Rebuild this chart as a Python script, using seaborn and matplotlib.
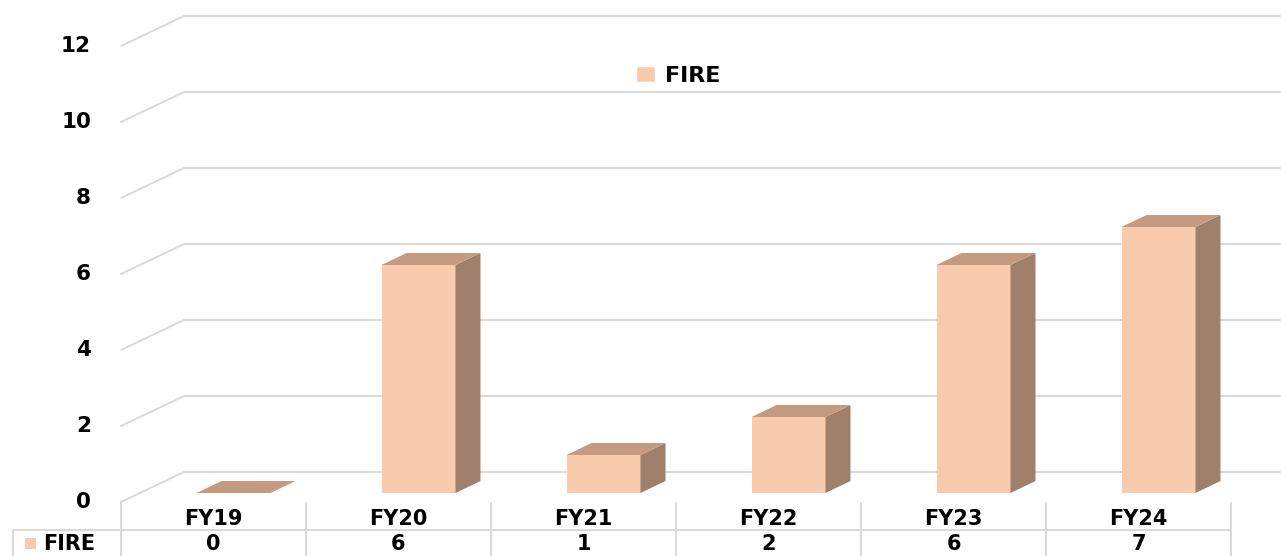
import matplotlib
matplotlib.use("Agg")
import matplotlib.pyplot as plt
import matplotlib.transforms as mtransforms
from matplotlib.patches import Polygon, Rectangle
import seaborn as sns
import pandas as pd

categories = ["FY19", "FY20", "FY21", "FY22", "FY23", "FY24"]
fire_values = [0, 6, 1, 2, 6, 7]
series_name = "FIRE"
y_ticks = [0, 2, 4, 6, 8, 10, 12]

FRONT = "#F8CBAD"
TOP = "#C49B80"
SIDE = "#A0806A"
GRID = "#D9D9D9"
FONT = ["DejaVu Sans"]

sns.set_theme(style="white")
plt.rcParams["font.family"] = FONT
plt.rcParams["text.color"] = "black"

W, H = 1281, 556
fig = plt.figure(figsize=(W / 100, H / 100), dpi=100)
# axes = front plane of the floor
x0, x1, yb, yt = 121, 1231, 502, 46
ax = fig.add_axes([x0 / W, (H - yb) / H, (x1 - x0) / W, (yb - yt) / H])
ax.set_xlim(-0.5, len(categories) - 0.5)
ax.set_ylim(0, 12)
ax.axis("off")

df = pd.DataFrame({"cat": categories, "val": fire_values})

def off(dx, dy):
    return mtransforms.ScaledTranslation(dx / 100, dy / 100, fig.dpi_scale_trans)

IDENT = mtransforms.IdentityTransform()
DEPTH = (63, 30)
BAR_F = (20, 9)
BAR_B = (45, 21)

# back wall gridlines + left side diagonals
for v in y_ticks:
    p_front = ax.transData.transform((-0.5, v))
    p_back = p_front + DEPTH
    p_right = ax.transData.transform((len(categories) - 0.5, v)) + DEPTH
    ln = plt.Line2D([p_front[0], p_back[0], p_right[0]],
                    [p_front[1], p_back[1], p_right[1]],
                    color=GRID, lw=1.4, transform=IDENT, zorder=0.5)
    ln.set_clip_on(False)
    ax.add_line(ln)
    ax.text(-0.5, v, str(v), transform=ax.transData + off(-30, 0),
            ha="right", va="center", fontsize=15.5, fontweight="bold",
            color="black")

# bars (front faces) via seaborn
sns.barplot(data=df, x="cat", y="val", color=FRONT, width=0.4, ax=ax,
            saturation=1, label=series_name, zorder=3)
ax.set_xlim(-0.5, len(categories) - 0.5)
ax.set_ylim(0, 12)
ax.axis("off")
for p in list(ax.patches):
    p.set_transform(ax.transData + off(*BAR_F))
    p.set_edgecolor("none")
    p.set_clip_on(False)
    p.set_zorder(3)
    xl = p.get_x()
    w = p.get_width()
    h = p.get_height()
    fl = ax.transData.transform((xl, h)) + BAR_F
    fr = ax.transData.transform((xl + w, h)) + BAR_F
    fb = ax.transData.transform((xl + w, 0)) + BAR_F
    d = (BAR_B[0] - BAR_F[0], BAR_B[1] - BAR_F[1])
    top = Polygon([fl, fr, fr + d, fl + d], closed=True, facecolor=TOP,
                  edgecolor="none", transform=IDENT, zorder=3, clip_on=False)
    side = Polygon([fr, fb, fb + d, fr + d], closed=True, facecolor=SIDE,
                   edgecolor="none", transform=IDENT, zorder=3, clip_on=False)
    ax.add_patch(side)
    ax.add_patch(top)

# legend
leg = ax.legend(handles=[Rectangle((0, 0), 1, 1, facecolor=FRONT)],
                labels=[series_name],
                loc="center", bbox_to_anchor=(678 / W, 1 - 76 / H),
                bbox_transform=fig.transFigure, frameon=False,
                handlelength=0.85, handleheight=0.7, handletextpad=0.45,
                prop={"weight": "bold", "size": 16, "family": FONT})
for t in leg.get_texts():
    t.set_color("black")

# data table
def px_line(xs, ys):
    fig.add_artist(plt.Line2D(xs, [H - y for y in ys], color=GRID, lw=1.4,
                              transform=IDENT))

px_line([13, 1231], [530, 530])
px_line([13, 13], [530, 556])
for i in range(len(categories) + 1):
    xd = ax.transData.transform((i - 0.5, 0))[0]
    px_line([xd, xd], [503, 556])
for i, (c, v) in enumerate(zip(categories, fire_values)):
    xd = ax.transData.transform((i, 0))[0]
    fig.text(xd / W, 1 - 519 / H, c, ha="center", va="center", fontsize=15,
             fontweight="bold", color="black")
    fig.text(xd / W, 1 - 544 / H, str(v), ha="center", va="center",
             fontsize=15, fontweight="bold", color="black")
fig.add_artist(Rectangle((25 / W, 1 - 549 / H), 11 / W, 11 / H,
                         facecolor=FRONT, edgecolor="none",
                         transform=fig.transFigure))
fig.text(43 / W, 1 - 544 / H, series_name, ha="left", va="center",
         fontsize=15, fontweight="bold", color="black")

fig.savefig("out.png", dpi=100, facecolor="white")
